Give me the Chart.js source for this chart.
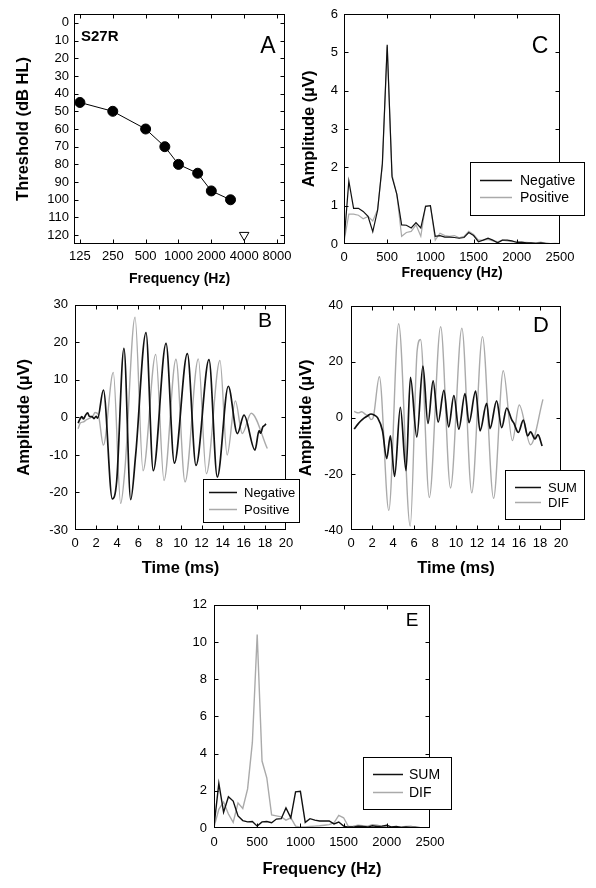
<!DOCTYPE html>
<html>
<head>
<meta charset="utf-8">
<script src="https://cdn.jsdelivr.net/npm/chart.js@4.4.0/dist/chart.umd.min.js"></script>
<style>
  body { margin: 0; background: #fff; width: 596px; height: 888px; position: relative; overflow: hidden; }
  canvas { position: absolute; }
</style>
</head>
<body>
<canvas id="chartA" style="left:0;top:0" width="300" height="290"></canvas>
<canvas id="chartC" style="left:300px;top:0" width="296" height="290"></canvas>
<canvas id="chartB" style="left:0;top:290px" width="300" height="300"></canvas>
<canvas id="chartD" style="left:296px;top:290px" width="300" height="300"></canvas>
<canvas id="chartE" style="left:150px;top:590px" width="310" height="298"></canvas>
<script>
// Panel A - audiogram
const audFreq = [125, 250, 500, 750, 1000, 1500, 2000, 3000];
const audThresh = [45, 50, 60, 70, 80, 85, 95, 100];
const noRespFreq = [4000];
const noRespThresh = [120];
const audXTicks = [125, 250, 500, 1000, 2000, 4000, 8000];
const audYTicks = [0, 10, 20, 30, 40, 50, 60, 70, 80, 90, 100, 110, 120];

// Panel B - waveforms (ms, uV)
const bNegT = [0.3, 0.5, 0.65, 0.8, 1.0, 1.2, 1.35, 1.6, 1.8, 2.0, 2.15, 2.69, 3.54, 3.95, 4.64, 5.28, 5.75, 6.73, 7.42, 8.63, 9.42, 10.65, 11.47, 12.7, 13.49, 14.53, 15.39, 16.02, 17.06, 17.45, 17.6, 17.8, 17.95, 18.1];
const bNegV = [-1.5, -0.3, 0.2, -0.4, 0.6, 1.2, 0.3, 0.2, -0.3, 0.3, -0.2, 7.3, -21.7, -17, 18.4, -21.9, -10, 22.6, -14.2, 19.7, -12.2, 17, -12.8, 15.4, -15.9, 8.3, -4.3, 0.6, -8.7, -3.5, -4.2, -2.5, -2.2, -1.7];
const bPosT = [0.3, 0.5, 0.8, 1.1, 1.4, 1.7, 1.9, 2.2, 2.69, 3.63, 4.33, 4.74, 5.69, 6.45, 7.65, 8.44, 9.57, 10.43, 11.69, 12.45, 13.74, 14.42, 15.2, 15.85, 16.7, 18.23];
const bPosV = [-3, -1.5, -1.2, -0.6, -0.2, 0.4, 1.3, 0.8, -7.4, 12, -22.9, -13.5, 26.7, -14.2, 16.8, -16.8, 15.5, -17.2, 15.6, -15, 15.2, -10, 4.4, -4.3, 1.1, -8.3];
const timeTicks = [0, 2, 4, 6, 8, 10, 12, 14, 16, 18, 20];
const bYTicks = [-30, -20, -10, 0, 10, 20, 30];

// Panel D - SUM / DIF waveforms
const dSumT = [0.3, 0.6, 0.9, 1.27, 1.6, 1.9, 2.2, 2.54, 3.0, 3.4, 3.75, 4.15, 4.7, 5.24, 5.66, 6.27, 6.85, 7.33, 7.82, 8.3, 8.85, 9.3, 9.8, 10.27, 10.86, 11.24, 11.87, 12.29, 12.92, 13.24, 13.87, 14.35, 14.83, 15.3, 15.5, 15.94, 16.41, 16.83, 17.1, 17.52, 17.8, 18.2];
const dSumV = [-4, -2.5, -1.2, 0, 0.8, 1.4, 1.0, 0, -4.6, -14.5, -6.4, -20.9, 3.8, -18.8, 14.5, -6.8, 18.5, -2, 13.2, -1.5, 9.8, -3.2, 8, -4, 8.7, -1.7, 9.6, -4.6, 5.2, -3.8, 6.1, -3.5, 3.5, -0.6, -1.8, -5.2, -0.8, -6.4, -5, -7.5, -6, -10];
const dDifT = [0.3, 0.7, 1.0, 1.4, 1.7, 1.9, 2.1, 2.7, 3.6, 4.54, 5.64, 6.3, 6.62, 7.46, 8.54, 9.48, 10.56, 11.5, 12.52, 13.58, 14.5, 15.37, 16.02, 17.1, 18.28];
const dDifV = [2.3, 1.8, 2.2, 1.2, 0.5, -0.6, 0, 14.7, -33, 33.6, -38.6, 24, 28, -28.4, 32.5, -25, 32, -26.7, 29, -28.7, 16.8, -8.1, 4.6, -9.6, 6.6];
const dYTicks = [-40, -20, 0, 20, 40];

// Panels C and E - spectra (Hz, uV)
const specFreq = [0, 56, 111, 167, 222, 278, 333, 389, 444, 500, 556, 611, 667, 722, 778, 833, 889, 944, 1000, 1056, 1111, 1167, 1222, 1278, 1333, 1389, 1444, 1500, 1556, 1611, 1667, 1722, 1778, 1833, 1889, 1944, 2000, 2056, 2111, 2167, 2222, 2278, 2333, 2389, 2444, 2500];
const cNeg = [0.05, 1.64, 0.93, 0.93, 0.85, 0.72, 0.32, 0.88, 2.1, 5.2, 1.75, 1.3, 0.5, 0.49, 0.42, 0.56, 0.42, 0.98, 1.0, 0.2, 0.22, 0.18, 0.18, 0.17, 0.15, 0.17, 0.3, 0.22, 0.06, 0.1, 0.15, 0.1, 0.03, 0.1, 0.1, 0.08, 0.04, 0.05, 0.03, 0.03, 0.02, 0.03, 0.02, 0.01, 0.01, 0.01];
const cPos = [0.05, 0.78, 0.78, 0.75, 0.66, 0.72, 0.6, 0.9, 2.05, 5.15, 1.8, 1.3, 0.2, 0.3, 0.33, 0.5, 0.2, 1.0, 1.0, 0.1, 0.28, 0.22, 0.2, 0.22, 0.16, 0.2, 0.33, 0.25, 0.1, 0.1, 0.12, 0.08, 0.06, 0.1, 0.08, 0.06, 0.07, 0.04, 0.04, 0.03, 0.03, 0.05, 0.02, 0.01, 0.02, 0.01];
const eSum = [0.1, 2.4, 0.85, 1.68, 1.45, 0.65, 0.4, 0.33, 0.35, 0.1, 0.33, 0.35, 0.28, 0.48, 0.5, 1.08, 0.55, 1.94, 1.97, 0.3, 0.5, 0.42, 0.38, 0.38, 0.38, 0.22, 0.32, 0.1, 0.05, 0.05, 0.1, 0.08, 0.05, 0.12, 0.08, 0.1, 0.15, 0.05, 0.08, 0.03, 0.05, 0.03, 0.04, 0.02, 0.02, 0.01];
const eDif = [0.05, 1.0, 1.4, 0.75, 0.3, 1.35, 1.05, 2.1, 4.6, 10.4, 3.6, 2.7, 0.7, 0.65, 0.6, 0.42, 0.55, 0.1, 0.05, 0.05, 0.08, 0.1, 0.12, 0.15, 0.18, 0.28, 0.68, 0.55, 0.08, 0.1, 0.15, 0.12, 0.1, 0.18, 0.15, 0.08, 0.1, 0.06, 0.05, 0.05, 0.08, 0.1, 0.03, 0.02, 0.02, 0.01];
const freqTicks = [0, 500, 1000, 1500, 2000, 2500];
const cYTicks = [0, 1, 2, 3, 4, 5, 6];
const eYTicks = [0, 2, 4, 6, 8, 10, 12];

const fontFam = '"Liberation Sans", Arial, sans-serif';
Chart.defaults.font.family = fontFam;
Chart.defaults.color = '#000';

const BLACK = '#111';
const GRAY = '#aaaaaa';

function pts(xs, ys) {
  return xs.map((x, i) => ({ x: x, y: ys[i] }));
}

// frame with inward ticks, panel letters and boxed legend
const decoPlugin = {
  id: 'deco',
  afterDatasetsDraw(chart, args, opts) {
    const ctx = chart.ctx;
    const a = chart.chartArea;
    const sx = chart.scales.x, sy = chart.scales.y;
    const L = Math.round(a.left) + 0.5, R = Math.round(a.right) - 0.5;
    const T = Math.round(a.top) + 0.5, B = Math.round(a.bottom) - 0.5;
    const clamp = (v, lo, hi) => Math.min(hi, Math.max(lo, v));
    ctx.save();
    ctx.strokeStyle = '#000';
    ctx.lineWidth = 1;
    ctx.strokeRect(L, T, R - L, B - T);
    const len = 4;
    ctx.beginPath();
    sx.ticks.forEach(t => {
      const p = clamp(Math.round(sx.getPixelForValue(t.value)) + 0.5, L, R);
      ctx.moveTo(p, B); ctx.lineTo(p, B - len);
      ctx.moveTo(p, T); ctx.lineTo(p, T + len);
    });
    sy.ticks.forEach(t => {
      const p = clamp(Math.round(sy.getPixelForValue(t.value)) + 0.5, T, B);
      ctx.moveTo(L, p); ctx.lineTo(L + len, p);
      ctx.moveTo(R, p); ctx.lineTo(R - len, p);
    });
    ctx.stroke();
    ctx.restore();
  },
  afterDraw(chart, args, opts) {
    const ctx = chart.ctx;
    ctx.save();
    (opts.texts || []).forEach(t => {
      ctx.font = (t.bold ? 'bold ' : '') + t.size + 'px ' + fontFam;
      ctx.fillStyle = '#000';
      ctx.textAlign = t.align || 'center';
      ctx.textBaseline = 'alphabetic';
      ctx.fillText(t.text, t.x, t.y);
    });
    const lg = opts.legend;
    if (lg) {
      ctx.fillStyle = '#fff';
      ctx.fillRect(lg.box[0], lg.box[1], lg.box[2], lg.box[3]);
      ctx.strokeStyle = '#000';
      ctx.lineWidth = 1;
      ctx.strokeRect(lg.box[0] + 0.5, lg.box[1] + 0.5, lg.box[2], lg.box[3]);
      chart.data.datasets.forEach((ds, i) => {
        const yy = lg.rows[i];
        ctx.strokeStyle = ds.borderColor;
        ctx.lineWidth = 1.5;
        ctx.beginPath();
        ctx.moveTo(lg.line[0], yy + 0.5);
        ctx.lineTo(lg.line[1], yy + 0.5);
        ctx.stroke();
        ctx.fillStyle = '#000';
        ctx.font = lg.size + 'px ' + fontFam;
        ctx.textAlign = 'left';
        ctx.textBaseline = 'middle';
        ctx.fillText(ds.label, lg.textX, yy + 1);
      });
    }
    ctx.restore();
  }
};

function panel(id, datasets, o) {
  return new Chart(document.getElementById(id), {
    type: 'line',
    data: { datasets: datasets },
    plugins: [decoPlugin],
    options: {
      responsive: false,
      animation: false,
      devicePixelRatio: 1,
      layout: { autoPadding: false, padding: o.pad },
      plugins: { legend: { display: false }, tooltip: { enabled: false }, deco: o.deco },
      elements: { point: { radius: 0 } },
      scales: {
        x: {
          type: o.xType || 'linear',
          min: o.xMin, max: o.xMax,
          afterBuildTicks: s => { s.ticks = o.xTicks.map(v => ({ value: v })); },
          afterFit: s => { s.height = o.xH; },
          grid: { display: false, drawTicks: false },
          border: { display: false },
          ticks: { autoSkip: false, maxRotation: 0, padding: o.xPad, font: { size: 13 }, callback: v => String(v) },
          title: { display: true, text: o.xTitle, font: { size: o.xTitleSize, weight: 'bold' }, padding: { top: 0, bottom: o.xTitlePad } }
        },
        y: {
          type: 'linear',
          reverse: !!o.yRev,
          min: o.yMin, max: o.yMax,
          afterBuildTicks: s => { s.ticks = o.yTicks.map(v => ({ value: v })); },
          afterFit: s => { s.width = o.yW; },
          grid: { display: false, drawTicks: false },
          border: { display: false },
          ticks: { autoSkip: false, padding: o.yPad, font: { size: 13 }, callback: v => String(v) },
          title: { display: !!o.yTitle, text: o.yTitle, font: { size: 16.5, weight: 'bold' }, padding: { top: o.yTitlePad, bottom: 0 } }
        }
      }
    }
  });
}

// A
panel('chartA', [
  { label: 'Threshold', data: pts(audFreq, audThresh), borderColor: '#000', borderWidth: 1,
    pointRadius: 5, pointBackgroundColor: '#000', pointBorderColor: '#000' },
  { label: 'No response', data: pts(noRespFreq, noRespThresh), showLine: false, pointStyle: 'triangle',
    rotation: 180, pointRadius: 5.5, pointBackgroundColor: '#fff', pointBorderColor: '#000', pointBorderWidth: 1 }
], {
  pad: { left: 0, top: 14, right: 15, bottom: 0 },
  xType: 'logarithmic', xMin: 110.3, xMax: 9470, xTicks: audXTicks, xH: 46, xPad: 5,
  xTitle: 'Frequency (Hz)', xTitleSize: 14, xTitlePad: 2,
  yRev: true, yMin: -5, yMax: 125, yTicks: audYTicks, yW: 74, yPad: 5,
  yTitle: 'Threshold (dB HL)', yTitlePad: 14,
  deco: { texts: [
    { text: 'S27R', x: 81, y: 41, size: 15, bold: true, align: 'left' },
    { text: 'A', x: 268, y: 53, size: 23 }
  ] }
});

// C
panel('chartC', [
  { label: 'Negative', data: pts(specFreq, cNeg), borderColor: BLACK, borderWidth: 1.2, order: 0 },
  { label: 'Positive', data: pts(specFreq, cPos), borderColor: GRAY, borderWidth: 1.2, order: 1 }
], {
  pad: { left: 0, top: 14, right: 36, bottom: 0 },
  xMin: 0, xMax: 2500, xTicks: freqTicks, xH: 46, xPad: 6,
  xTitle: 'Frequency (Hz)', xTitleSize: 14, xTitlePad: 8,
  yMin: 0, yMax: 6, yTicks: cYTicks, yW: 44, yPad: 6,
  yTitle: 'Amplitude (\u00b5V)', yTitlePad: 0,
  deco: {
    texts: [{ text: 'C', x: 240, y: 53, size: 23 }],
    legend: { box: [170, 162, 114, 53], line: [180, 212], textX: 220, rows: [180, 197], size: 14 }
  }
});

// B
panel('chartB', [
  { label: 'Negative', data: pts(bNegT, bNegV), borderColor: BLACK, borderWidth: 1.7, cubicInterpolationMode: 'monotone', order: 0 },
  { label: 'Positive', data: pts(bPosT, bPosV), borderColor: GRAY, borderWidth: 1.4, cubicInterpolationMode: 'monotone', order: 1 }
], {
  pad: { left: 0, top: 10, right: 14, bottom: 0 },
  xMin: 0, xMax: 20, xTicks: timeTicks, xH: 60, xPad: 6,
  xTitle: 'Time (ms)', xTitleSize: 16.5, xTitlePad: 12,
  yMin: -30, yMax: 30, yTicks: bYTicks, yW: 75, yPad: 7,
  yTitle: 'Amplitude (\u00b5V)', yTitlePad: 15,
  deco: {
    texts: [{ text: 'B', x: 265, y: 37, size: 21 }],
    legend: { box: [203, 189, 96, 43], line: [209, 237], textX: 244, rows: [202, 219], size: 13 }
  }
});

// D
panel('chartD', [
  { label: 'SUM', data: pts(dSumT, dSumV), borderColor: BLACK, borderWidth: 1.7, cubicInterpolationMode: 'monotone', order: 0 },
  { label: 'DIF', data: pts(dDifT, dDifV), borderColor: GRAY, borderWidth: 1.4, cubicInterpolationMode: 'monotone', order: 1 }
], {
  pad: { left: 0, top: 10, right: 35, bottom: 0 },
  xMin: 0, xMax: 20, xTicks: timeTicks, xH: 60, xPad: 6,
  xTitle: 'Time (ms)', xTitleSize: 16.5, xTitlePad: 12,
  yMin: -40, yMax: 40, yTicks: dYTicks, yW: 55, yPad: 8,
  yTitle: 'Amplitude (\u00b5V)', yTitlePad: 1,
  deco: {
    texts: [{ text: 'D', x: 245, y: 42, size: 22 }],
    legend: { box: [209, 180, 79, 49], line: [219, 245], textX: 252, rows: [197, 212], size: 13 }
  }
});

// E
panel('chartE', [
  { label: 'SUM', data: pts(specFreq, eSum), borderColor: BLACK, borderWidth: 1.4, order: 0 },
  { label: 'DIF', data: pts(specFreq, eDif), borderColor: GRAY, borderWidth: 1.4, order: 1 }
], {
  pad: { left: 0, top: 7, right: 30, bottom: 0 },
  xMin: 0, xMax: 2500, xTicks: freqTicks, xH: 60, xPad: 7,
  xTitle: 'Frequency (Hz)', xTitleSize: 16.5, xTitlePad: 9,
  yMin: 0, yMax: 12, yTicks: eYTicks, yW: 64, yPad: 7,
  deco: {
    texts: [{ text: 'E', x: 262, y: 36, size: 19 }],
    legend: { box: [213, 167, 88, 52], line: [223, 253], textX: 259, rows: [184, 202], size: 14 }
  }
});
</script>
</body>
</html>
